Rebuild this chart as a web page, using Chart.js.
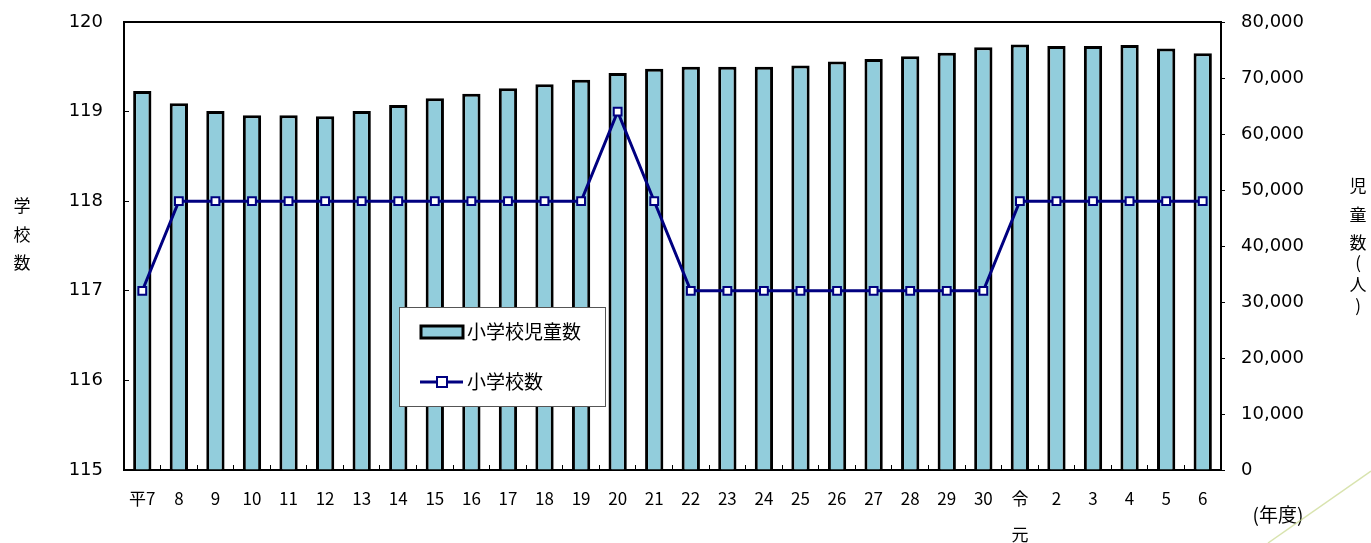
<!DOCTYPE html>
<html lang="ja">
<head>
<meta charset="utf-8">
<title>小学校数・小学校児童数</title>
<script src="https://cdn.jsdelivr.net/npm/chart.js@4.4.1/dist/chart.umd.min.js"></script>
<style>
  html, body { margin: 0; padding: 0; background: #fff; }
  #wrap { width: 1371px; height: 543px; }
</style>
</head>
<body>
<div id="wrap"><canvas id="chart" width="1371" height="543"></canvas></div>
<script>
// 年度ラベル
const years = ['平7', '8', '9', '10', '11', '12', '13', '14', '15', '16', '17', '18', '19', '20', '21',
  '22', '23', '24', '25', '26', '27', '28', '29', '30', ['令', '元'], '2', '3', '4', '5', '6'];

// 小学校児童数（人）
const pupils = [67700, 65500, 64100, 63350, 63350, 63150, 64100, 65200, 66400, 67200, 68150, 68900,
  69700, 70900, 71650, 72000, 72000, 72000, 72250, 72950, 73400, 73900, 74500, 75500, 76000,
  75700, 75700, 75900, 75250, 74400];

// 小学校数
const schools = [117, 118, 118, 118, 118, 118, 118, 118, 118, 118, 118, 118, 118, 119, 118,
  117, 117, 117, 117, 117, 117, 117, 117, 117, 118, 118, 118, 118, 118, 118];

const leftTitle = ['学', '校', '数'];
const rightTitle = ['児', '童', '数', '(', '人', ')'];

const navy = '#000080';
const barFill = '#92cddc';
const numFont = '"DejaVu Sans", Verdana, sans-serif';
const jpFont = '"Noto Sans CJK JP", sans-serif';

// 軸タイトル・凡例・(年度) を描く
const extras = {
  id: 'extras',
  afterDatasetsDraw(chart) {
    const ctx = chart.ctx;
    const a = chart.chartArea;
    ctx.save();

    // top edge of the plot box
    ctx.strokeStyle = '#000';
    ctx.lineWidth = 2;
    ctx.beginPath();
    ctx.moveTo(a.left - 1, a.top);
    ctx.lineTo(a.right + 1, a.top);
    ctx.stroke();

    // legend box
    const lx = a.left + 275, ly = a.top + 285, lw = 206, lh = 99;
    ctx.fillStyle = '#fff';
    ctx.fillRect(lx, ly, lw, lh);
    ctx.strokeStyle = '#555';
    ctx.lineWidth = 1;
    ctx.strokeRect(lx + 0.5, ly + 0.5, lw, lh);

    ctx.fillStyle = barFill;
    ctx.fillRect(lx + 22, ly + 19, 42, 12);
    ctx.strokeStyle = '#000';
    ctx.lineWidth = 3;
    ctx.strokeRect(lx + 22, ly + 19, 42, 12);

    ctx.strokeStyle = navy;
    ctx.lineWidth = 3;
    ctx.beginPath();
    ctx.moveTo(lx + 21, ly + 75);
    ctx.lineTo(lx + 64, ly + 75);
    ctx.stroke();
    ctx.fillStyle = '#fff';
    ctx.fillRect(lx + 38, ly + 70, 10, 10);
    ctx.lineWidth = 2;
    ctx.strokeRect(lx + 38, ly + 70, 10, 10);

    ctx.fillStyle = '#000';
    ctx.font = '19px ' + jpFont;
    ctx.textAlign = 'left';
    ctx.textBaseline = 'middle';
    ctx.fillText('小学校児童数', lx + 68, ly + 25);
    ctx.fillText('小学校数', lx + 68, ly + 75);

    // axis titles, one character per line
    ctx.textAlign = 'center';
    ctx.font = '17px ' + jpFont;
    leftTitle.forEach((c, i) => ctx.fillText(c, 22, 206 + i * 28.5));
    const ry = [186, 215, 243, 263, 285, 306];
    rightTitle.forEach((c, i) => ctx.fillText(c, 1358, ry[i]));

    ctx.font = '19px ' + jpFont;
    ctx.fillText('(年度)', 1278, 515);

    // faint decorative stroke at bottom right
    ctx.strokeStyle = 'rgba(200, 215, 140, 0.7)';
    ctx.lineWidth = 1.5;
    ctx.beginPath();
    ctx.moveTo(1268, 543);
    ctx.lineTo(1371, 471);
    ctx.stroke();

    ctx.restore();
  }
};

// fixed axis sizes so the plot box lands where the original has it
function fixY(width) {
  return s => {
    s.width = width;
    s.paddingTop = 0;
    s.paddingBottom = 0;
  };
}

const ctx = document.getElementById('chart').getContext('2d');
new Chart(ctx, {
  data: {
    labels: years,
    datasets: [
      {
        type: 'line',
        label: '小学校数',
        data: schools,
        yAxisID: 'y',
        borderColor: navy,
        borderWidth: 3,
        pointStyle: 'rect',
        pointRadius: 5.5,
        pointBackgroundColor: '#fff',
        pointBorderColor: navy,
        pointBorderWidth: 2,
        tension: 0,
        order: 0
      },
      {
        type: 'bar',
        label: '小学校児童数',
        data: pupils,
        yAxisID: 'y1',
        backgroundColor: barFill,
        borderColor: '#000',
        borderWidth: 3,
        barPercentage: 0.5,
        categoryPercentage: 1,
        order: 1
      }
    ]
  },
  options: {
    responsive: false,
    animation: false,
    layout: { padding: { top: 22, left: 0, right: 0, bottom: 0 } },
    plugins: {
      legend: { display: false },
      tooltip: { enabled: false }
    },
    scales: {
      x: {
        offset: true,
        grid: { offset: true, drawOnChartArea: false, drawTicks: true, tickLength: -5, color: '#000', lineWidth: 1 },
        border: { display: true, color: '#000', width: 2 },
        ticks: {
          autoSkip: false,
          maxRotation: 0,
          padding: 16,
          color: '#000',
          font: { family: jpFont, size: 17, lineHeight: 2.1 }
        },
        afterFit: s => { s.height = 73; }
      },
      y: {
        position: 'left',
        min: 115,
        max: 120,
        ticks: { stepSize: 1, padding: 26, color: '#000', font: { family: numFont, size: 18 } },
        grid: { drawOnChartArea: false, drawTicks: true, tickLength: -5, color: '#000' },
        border: { display: true, color: '#000', width: 2 },
        afterFit: fixY(124)
      },
      y1: {
        position: 'right',
        min: 0,
        max: 80000,
        ticks: {
          stepSize: 10000,
          padding: 16,
          color: '#000',
          font: { family: numFont, size: 18 },
          callback: v => v.toLocaleString('en-US')
        },
        grid: { drawOnChartArea: false, drawTicks: true, tickLength: 4, color: '#000' },
        border: { display: true, color: '#000', width: 2 },
        afterFit: fixY(150)
      }
    }
  },
  plugins: [extras]
});
</script>
</body>
</html>
